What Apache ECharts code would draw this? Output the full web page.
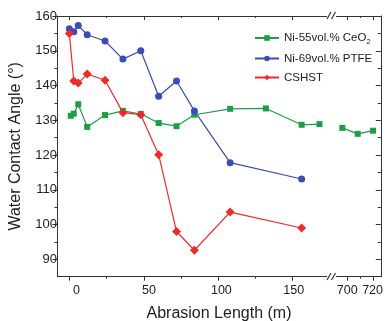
<!DOCTYPE html>
<html>
<head>
<meta charset="utf-8">
<script src="https://cdn.jsdelivr.net/npm/echarts@6/dist/echarts.min.js"></script>
<style>html,body{margin:0;padding:0;background:#fff}#c{width:386px;height:321px}</style>
</head>
<body>
<div id="c"></div>
<script>
// ---- data ----
const ceLeftX = [1, 3, 6, 12, 24, 36, 48, 60, 72, 84, 108, 132, 156, 168];
const ceLeftY = [131.3, 131.9, 134.6, 128.1, 131.5, 132.7, 131.8, 129.2, 128.3, 131.6, 133.3, 133.4, 128.7, 128.9];
const ceRightX = [696, 708, 720];
const ceRightY = [127.8, 126.1, 127.0];
const ptfeX = [0, 3, 6, 12, 24, 36, 48, 60, 72, 84, 108, 156];
const ptfeY = [156.3, 155.5, 157.3, 154.6, 152.8, 147.6, 150.0, 136.9, 141.3, 132.7, 117.8, 113.1];
const cshstX = [0, 3, 6, 12, 24, 36, 48, 60, 72, 84, 108, 156];
const cshstY = [155.0, 141.3, 140.7, 143.3, 141.5, 132.2, 131.6, 120.1, 98.0, 92.6, 103.6, 99.0];
const xTicksLeft = [0, 50, 100, 150];
const xMinorLeft = [25, 75, 125];
const xTicksRight = [700, 720];
const xMinorRight = [710];
const yTicks = [90, 100, 110, 120, 130, 140, 150, 160];
const yMinor = [95, 105, 115, 125, 135, 145, 155];
const names = ['Ni-55vol.% CeO2', 'Ni-69vol.% PTFE', 'CSHST'];

const zip = (a, b) => a.map((v, i) => [v, b[i]]);
const FONT = 'Liberation Sans, Arial, sans-serif';
const TXT = '#222';
const AX = '#333';
const LEFT_MIN = -8, LEFT_MAX = 176;
const RIGHT_MIN = 687.5, RIGHT_MAX = 726;
const Y_MIN = 85, Y_MAX = 160;

// axis that draws only line + ticks (no labels)
function lineAx(grid, pos, min, max, ticks, len, inside, line) {
  return {
    type: 'value', gridIndex: grid, position: pos, min: min, max: max,
    splitLine: { show: false },
    axisLine: { show: line, onZero: false, lineStyle: { color: AX } },
    axisTick: { show: true, length: len, inside: inside, customValues: ticks.slice() },
    axisLabel: { show: false }
  };
}
// axis that draws only labels
function labelAx(grid, pos, min, max, ticks, size, margin, extra) {
  return Object.assign({
    type: 'value', gridIndex: grid, position: pos, min: min, max: max,
    splitLine: { show: false },
    axisLine: { show: false, onZero: false },
    axisTick: { show: false },
    axisLabel: { show: true, customValues: ticks.slice(), fontSize: size, fontFamily: FONT, color: TXT, margin: margin }
  }, extra || {});
}

const green = '#1f9d45', blue = '#3a4cb5', red = '#f02a2a';
const GL = { left: 57.4, top: 16, width: 274, height: 260.7 };
const GR = { left: 331.4, top: 16, width: 49.4, height: 260.7 };

const option = {
  animation: false,
  backgroundColor: '#fff',
  grid: [
    Object.assign({}, GL), Object.assign({}, GL), Object.assign({}, GL),
    Object.assign({}, GR), Object.assign({}, GR), Object.assign({}, GR)
  ],
  xAxis: [
    lineAx(0, 'bottom', LEFT_MIN, LEFT_MAX, xTicksLeft, 4, false, true),
    lineAx(0, 'top', LEFT_MIN, LEFT_MAX, xTicksLeft, 4, true, true),
    lineAx(1, 'bottom', LEFT_MIN, LEFT_MAX, xMinorLeft, 2, false, false),
    lineAx(1, 'top', LEFT_MIN, LEFT_MAX, xMinorLeft, 2, true, false),
    labelAx(2, 'bottom', LEFT_MIN, LEFT_MAX, xTicksLeft, 12.5, 7),
    lineAx(3, 'bottom', RIGHT_MIN, RIGHT_MAX, xTicksRight, 4, false, true),
    lineAx(3, 'top', RIGHT_MIN, RIGHT_MAX, xTicksRight, 4, true, true),
    lineAx(4, 'bottom', RIGHT_MIN, RIGHT_MAX, xMinorRight, 2, false, false),
    lineAx(4, 'top', RIGHT_MIN, RIGHT_MAX, xMinorRight, 2, true, false),
    labelAx(5, 'bottom', RIGHT_MIN, RIGHT_MAX, xTicksRight, 12.5, 7)
  ],
  yAxis: [
    lineAx(0, 'left', Y_MIN, Y_MAX, yTicks, 5, false, true),
    lineAx(1, 'left', Y_MIN, Y_MAX, yMinor, 3, false, false),
    labelAx(2, 'left', Y_MIN, Y_MAX, yTicks, 13, 8, {
      name: 'Water Contact Angle (°)', nameLocation: 'middle', nameGap: 41,
      nameTextStyle: { fontSize: 16, fontFamily: FONT, color: TXT }
    }),
    lineAx(3, 'right', Y_MIN, Y_MAX, yTicks, 5, true, true),
    lineAx(4, 'right', Y_MIN, Y_MAX, yMinor, 3, true, false),
    lineAx(5, 'right', Y_MIN, Y_MAX, yTicks, 0, true, false)
  ],
  legend: {
    orient: 'vertical', left: 249, top: 27, itemWidth: 24, itemHeight: 7, itemGap: 7,
    data: names,
    formatter: function (n) {
      return n === names[0] ? '{n|Ni-55vol.% CeO}{s|2}' : '{n|' + n + '}';
    },
    textStyle: {
      color: TXT, fontFamily: FONT, fontSize: 11.5,
      rich: {
        n: { fontSize: 11.5, fontFamily: FONT, color: TXT },
        s: { fontSize: 7.5, fontFamily: FONT, color: TXT, padding: [7, 0, 0, 0] }
      }
    }
  },
  series: [
    { name: names[0], type: 'line', xAxisIndex: 0, yAxisIndex: 0, data: zip(ceLeftX, ceLeftY),
      symbol: 'rect', symbolSize: 6, itemStyle: { color: green }, lineStyle: { color: green, width: 1.2 } },
    { name: names[0], type: 'line', xAxisIndex: 5, yAxisIndex: 3, data: zip(ceRightX, ceRightY),
      symbol: 'rect', symbolSize: 6, itemStyle: { color: green }, lineStyle: { color: green, width: 1.2 } },
    { name: names[1], type: 'line', xAxisIndex: 0, yAxisIndex: 0, data: zip(ptfeX, ptfeY),
      symbol: 'circle', symbolSize: 7, itemStyle: { color: blue }, lineStyle: { color: blue, width: 1.2 } },
    { name: names[2], type: 'line', xAxisIndex: 0, yAxisIndex: 0, data: zip(cshstX, cshstY),
      symbol: 'diamond', symbolSize: 9, itemStyle: { color: red }, lineStyle: { color: red, width: 1.2 } }
  ],
  graphic: [
    { type: 'text', style: { text: 'Abrasion Length (m)', x: 219, y: 314, fontSize: 16, fontFamily: FONT, fill: TXT,
      textAlign: 'center', textVerticalAlign: 'middle' } },
    { type: 'rect', shape: { x: 327, y: 12, width: 9, height: 8 }, style: { fill: '#fff' }, z: 100 },
    { type: 'line', shape: { x1: 327, y1: 19, x2: 331, y2: 12 }, style: { stroke: AX, lineWidth: 1.2 }, z: 101 },
    { type: 'line', shape: { x1: 331.5, y1: 19, x2: 335.5, y2: 12 }, style: { stroke: AX, lineWidth: 1.2 }, z: 101 },
    { type: 'rect', shape: { x: 327, y: 273, width: 9, height: 8 }, style: { fill: '#fff' }, z: 100 },
    { type: 'line', shape: { x1: 327, y1: 280, x2: 331, y2: 273 }, style: { stroke: AX, lineWidth: 1.2 }, z: 101 },
    { type: 'line', shape: { x1: 331.5, y1: 280, x2: 335.5, y2: 273 }, style: { stroke: AX, lineWidth: 1.2 }, z: 101 }
  ]
};
const chart = echarts.init(document.getElementById('c'), null, { renderer: 'canvas' });
chart.setOption(option);
</script>
</body>
</html>
